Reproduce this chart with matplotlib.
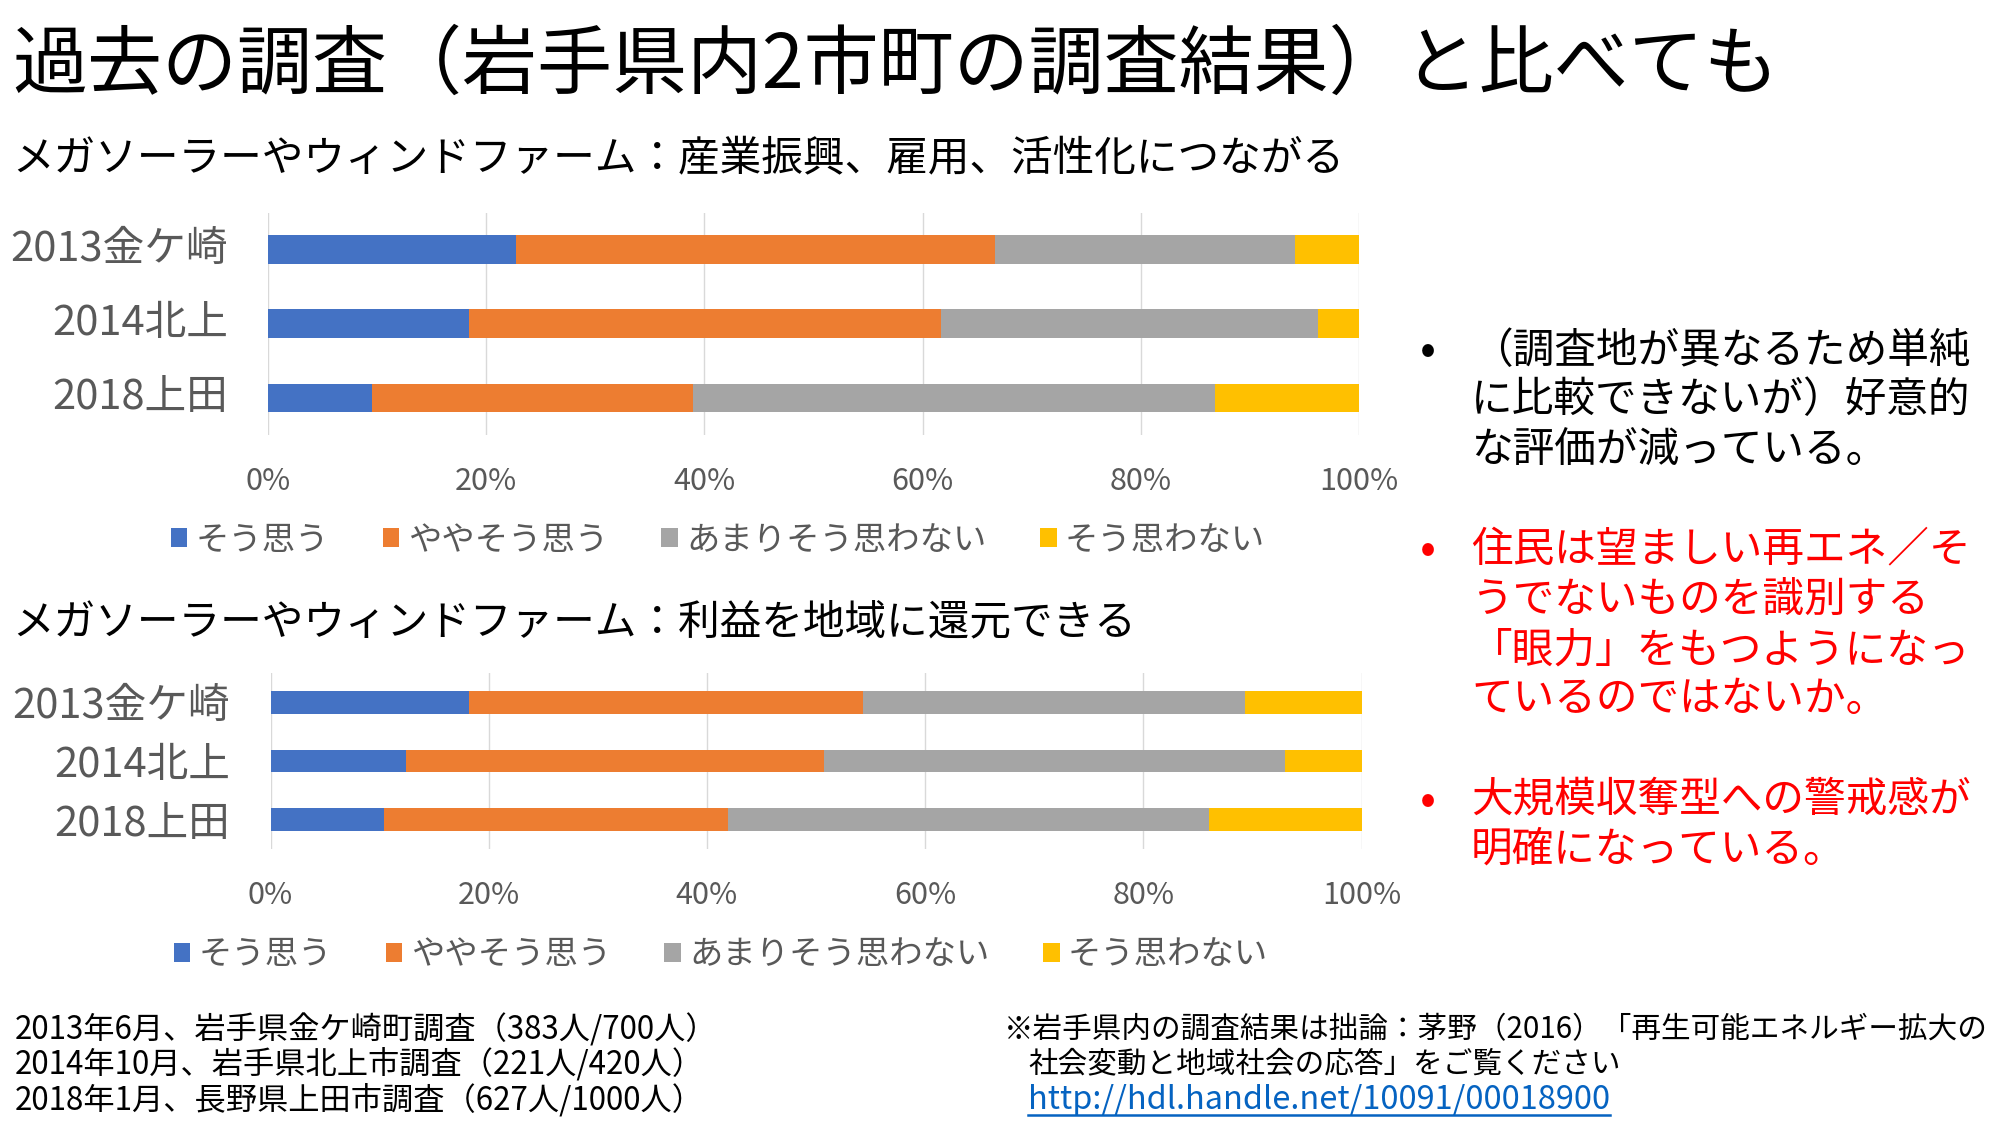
import matplotlib
matplotlib.use("Agg")
import matplotlib.pyplot as plt
from matplotlib.lines import Line2D
import matplotlib.transforms as mtransforms
import numpy as np

plt.rcParams['font.family'] = ['Noto Sans CJK JP', 'DejaVu Sans']

# ---------------- data ----------------
title = "過去の調査（岩手県内2市町の調査結果）と比べても"
subtitle1 = "メガソーラーやウィンドファーム：産業振興、雇用、活性化につながる"
subtitle2 = "メガソーラーやウィンドファーム：利益を地域に還元できる"

categories = ["2013金ケ崎", "2014北上", "2018上田"]
series_names = ["そう思う", "ややそう思う", "あまりそう思わない", "そう思わない"]
series_colors = ["#4472C4", "#ED7D31", "#A5A5A5", "#FFC000"]

# chart 1 (industry / employment / revitalisation), percentages per category
c1_sou = [22.7, 18.4, 9.5]
c1_yaya = [43.9, 43.3, 29.5]
c1_amari = [27.5, 34.5, 47.8]
c1_not = [5.9, 3.8, 13.2]

# chart 2 (returning profit to the region)
c2_sou = [18.2, 12.4, 10.4]
c2_yaya = [36.1, 38.3, 31.5]
c2_amari = [35.0, 42.3, 44.1]
c2_not = [10.7, 7.0, 14.0]

x_ticks = [0, 20, 40, 60, 80, 100]
x_tick_labels = ["0%", "20%", "40%", "60%", "80%", "100%"]

bullet1 = ["（調査地が異なるため単純", "に比較できないが）好意的", "な評価が減っている。"]
bullet2 = ["住民は望ましい再エネ／そ", "うでないものを識別する", "「眼力」をもつようになっ", "ているのではないか。"]
bullet3 = ["大規模収奪型への警戒感が", "明確になっている。"]

footer_left = ["2013年6月、岩手県金ケ崎町調査（383人/700人）",
               "2014年10月、岩手県北上市調査（221人/420人）",
               "2018年1月、長野県上田市調査（627人/1000人）"]
footer_right = ["※岩手県内の調査結果は拙論：茅野（2016）「再生可能エネルギー拡大の",
                "社会変動と地域社会の応答」をご覧ください"]
footer_url = "http://hdl.handle.net/10091/00018900"

# ---------------- figure ----------------
W, H = 2000, 1125
fig = plt.figure(figsize=(W / 100, H / 100), dpi=100)
fig.patch.set_facecolor("white")


def fx(px):
    return px / W


def fy(py):
    return 1 - py / H


GRAY_TXT = "#595959"


def stacked(ax, series, legend_center, ylabel_shift_px):
    y = np.arange(len(categories))
    left = np.zeros(len(categories))
    handles = []
    for name, vals, col in zip(series_names, series, series_colors):
        vals = np.asarray(vals, dtype=float)
        b = ax.barh(y, vals, left=left, height=0.39, color=col, label=name,
                    zorder=3)
        handles.append(b)
        left += vals
    ax.set_ylim(len(categories) - 0.5, -0.5)
    ax.set_xlim(0, 100)
    ax.set_xticks(x_ticks)
    ax.set_xticklabels(x_tick_labels)
    ax.set_yticks(y)
    ax.set_yticklabels(categories)
    ax.grid(axis="x", color="#D9D9D9", linewidth=1.0, zorder=0)
    ax.set_axisbelow(True)
    for s in ax.spines.values():
        s.set_visible(False)
    ax.tick_params(axis="x", length=0, pad=22, labelsize=22, labelcolor=GRAY_TXT)
    ax.tick_params(axis="y", length=0, pad=29, labelsize=30, labelcolor=GRAY_TXT)
    if ylabel_shift_px:
        off = mtransforms.ScaledTranslation(0, ylabel_shift_px / 100, fig.dpi_scale_trans)
        for lab in ax.get_yticklabels():
            lab.set_transform(lab.get_transform() + off)
    fig.legend(handles, series_names, ncol=4, loc="center",
               bbox_to_anchor=legend_center, frameon=False, fontsize=24,
               labelcolor=GRAY_TXT, handlelength=0.5, handleheight=0.5,
               handletextpad=0.25, columnspacing=1.6)


ax1 = fig.add_axes([fx(268), fy(435), fx(1359 - 268), (435 - 212.7) / H])
stacked(ax1, [c1_sou, c1_yaya, c1_amari, c1_not], (fx(718), fy(540)), 5)

ax2 = fig.add_axes([fx(270.5), fy(849), fx(1361.6 - 270.5), (849 - 673) / H])
stacked(ax2, [c2_sou, c2_yaya, c2_amari, c2_not], (fx(721), fy(955)), 0)

# titles
fig.text(fx(12), fy(66), title, fontsize=54, va="center", ha="left", color="black")
fig.text(fx(12), fy(159), subtitle1, fontsize=30, va="center", ha="left", color="black")
fig.text(fx(12), fy(623), subtitle2, fontsize=30, va="center", ha="left", color="black")

# bullets
bullet_blocks = [
    (bullet1, "black", [351, 401, 450]),
    (bullet2, "#FF0000", [550, 600, 651, 700]),
    (bullet3, "#FF0000", [801, 850]),
]
for lines, col, ys in bullet_blocks:
    fig.text(fx(1420), fy(ys[0]), "•", fontsize=34, va="center", ha="left", color=col)
    for line, yy in zip(lines, ys):
        fig.text(fx(1471), fy(yy), line, fontsize=30, va="center", ha="left", color=col)

# footers
for line, yy in zip(footer_left, [1030, 1064, 1100]):
    fig.text(fx(15), fy(yy), line, fontsize=22.5, va="center", ha="left", color="black")
fig.text(fx(1004), fy(1030), footer_right[0], fontsize=21.3, va="center", ha="left", color="black")
fig.text(fx(1028), fy(1064), footer_right[1], fontsize=21.3, va="center", ha="left", color="black")
url = fig.text(fx(1028), fy(1100), footer_url, fontsize=23.4, va="center", ha="left", color="#0563C1")

fig.canvas.draw()
bb = url.get_window_extent(renderer=fig.canvas.get_renderer())
fig.add_artist(Line2D([bb.x0 / W, bb.x1 / W], [(bb.y0 + 1) / H, (bb.y0 + 1) / H],
                      transform=fig.transFigure, color="#0563C1", linewidth=1.8))

fig.savefig("out.png", dpi=100, facecolor="white")
